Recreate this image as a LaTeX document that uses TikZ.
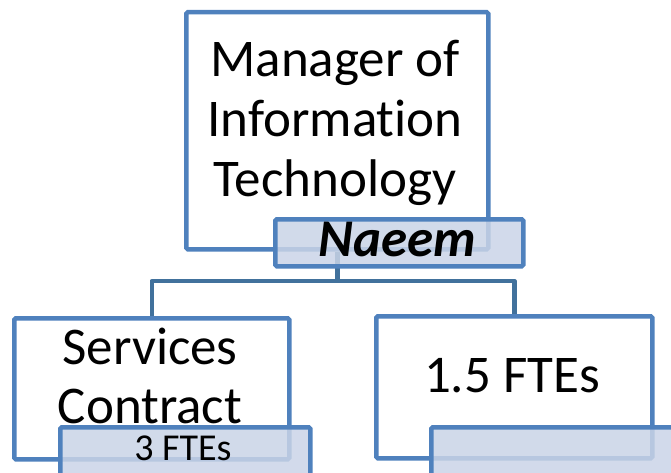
\documentclass[tikz,border=0pt]{standalone}
\usepackage{fontspec}
\setmainfont[Ligatures=NoCommon]{Carlito}
\usetikzlibrary{backgrounds}
\definecolor{bord}{HTML}{4F81BD}
\definecolor{connc}{HTML}{41719C}
\definecolor{subfill}{HTML}{CAD4E7}
\begin{document}
\begin{tikzpicture}[x=1pt,y=-1pt,
  box/.style={draw=bord, line width=4.5pt, fill=white, rounded corners=1.5pt, inner sep=0pt, anchor=north west},
  subbox/.style={draw=bord, line width=4.5pt, fill=subfill, fill opacity=0.85, draw opacity=1, text opacity=1, rounded corners=1.5pt, inner sep=0pt, anchor=north west},
  connline/.style={draw=connc, line width=4.5pt, line join=round},
  big/.style={font=\fontsize{53}{63}\selectfont, anchor=base, inner sep=0pt},
  small/.style={font=\fontsize{38}{45}\selectfont, anchor=base, inner sep=0pt},
]
\useasboundingbox (0,0) rectangle (671,473);
\clip (0,0) rectangle (671,473);
% main boxes
\node[box, minimum width=302pt, minimum height=237pt] (top) at (184,10) {};
\node[box, minimum width=275pt, minimum height=141pt] (left) at (12,316) {};
\node[box, minimum width=276pt, minimum height=142pt] (right) at (374,314) {};
% connectors
\begin{scope}[on background layer]
\coordinate (mid) at (top.south |- 0,281);
\draw[connline] (top.south) -- (mid) -| (left.north);
\draw[connline] (mid) -| (right.north);
\end{scope}
% texts of main boxes
\node[big] (t1) at (335,77) {Manager of};
\node[big] (t2) at (335,137) {Information};
\node[big] (t3) at (335,196) {Technology};
\node[big] (s1) at (150,364) {Services};
\node[big] (s2) at (150,423) {Contract};
\node[big] (f1) at (512,392) {1.5 FTEs};
% sub boxes
\node[subbox, minimum width=248pt, minimum height=47pt] (naeem) at (273,217) {};
\node[subbox, minimum width=250pt, minimum height=70pt] (lsub) at (58,425) {};
\node[subbox, minimum width=271pt, minimum height=70pt] (rsub) at (429,425) {};
\node[big, font=\fontsize{53}{63}\selectfont\bfseries\itshape] (nt) at (397,256) {Naeem};
\node[small] (f3) at (183,460) {3 FTEs};
\end{tikzpicture}
\end{document}
